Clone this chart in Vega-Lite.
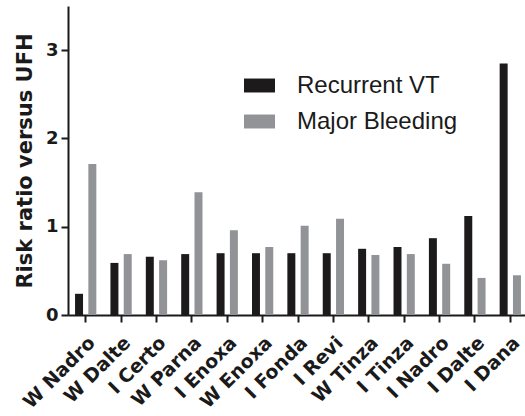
{
  "$schema": "https://vega.github.io/schema/vega-lite/v6.json",
  "autosize": "none",
  "padding": {"left": 68, "top": 6, "right": 0, "bottom": 101},
  "width": 460,
  "height": 309,
  "config": {
    "view": {"stroke": null},
    "font": "Liberation Sans",
    "axis": {"grid": false, "domainColor": "#1a1a1a", "domainWidth": 2, "tickColor": "#1a1a1a", "tickWidth": 2, "labelColor": "#1a1a1a", "titleColor": "#1a1a1a", "labelFont": "DejaVu Sans", "titleFont": "DejaVu Sans"}
  },
  "data": {
    "values": [
      {"drug": "W Nadro", "outcome": "Recurrent VT", "rr": 0.24},
      {"drug": "W Nadro", "outcome": "Major Bleeding", "rr": 1.71},
      {"drug": "W Dalte", "outcome": "Recurrent VT", "rr": 0.59},
      {"drug": "W Dalte", "outcome": "Major Bleeding", "rr": 0.69},
      {"drug": "I Certo", "outcome": "Recurrent VT", "rr": 0.66},
      {"drug": "I Certo", "outcome": "Major Bleeding", "rr": 0.62},
      {"drug": "W Parna", "outcome": "Recurrent VT", "rr": 0.69},
      {"drug": "W Parna", "outcome": "Major Bleeding", "rr": 1.39},
      {"drug": "I Enoxa", "outcome": "Recurrent VT", "rr": 0.70},
      {"drug": "I Enoxa", "outcome": "Major Bleeding", "rr": 0.96},
      {"drug": "W Enoxa", "outcome": "Recurrent VT", "rr": 0.70},
      {"drug": "W Enoxa", "outcome": "Major Bleeding", "rr": 0.77},
      {"drug": "I Fonda", "outcome": "Recurrent VT", "rr": 0.70},
      {"drug": "I Fonda", "outcome": "Major Bleeding", "rr": 1.01},
      {"drug": "I Revi", "outcome": "Recurrent VT", "rr": 0.70},
      {"drug": "I Revi", "outcome": "Major Bleeding", "rr": 1.09},
      {"drug": "W Tinza", "outcome": "Recurrent VT", "rr": 0.75},
      {"drug": "W Tinza", "outcome": "Major Bleeding", "rr": 0.68},
      {"drug": "I Tinza", "outcome": "Recurrent VT", "rr": 0.77},
      {"drug": "I Tinza", "outcome": "Major Bleeding", "rr": 0.69},
      {"drug": "I Nadro", "outcome": "Recurrent VT", "rr": 0.87},
      {"drug": "I Nadro", "outcome": "Major Bleeding", "rr": 0.58},
      {"drug": "I Dalte", "outcome": "Recurrent VT", "rr": 1.12},
      {"drug": "I Dalte", "outcome": "Major Bleeding", "rr": 0.42},
      {"drug": "I Dana", "outcome": "Recurrent VT", "rr": 2.85},
      {"drug": "I Dana", "outcome": "Major Bleeding", "rr": 0.45}
    ]
  },
  "mark": {"type": "bar"},
  "encoding": {
    "x": {
      "field": "drug",
      "type": "nominal",
      "sort": null,
      "scale": {"paddingInner": 0, "paddingOuter": 0},
      "axis": {"title": null, "labelAngle": -45, "labelFontSize": 19, "labelFontWeight": "bold", "tickSize": 7, "labelPadding": 11, "labelLimit": 200}
    },
    "xOffset": {
      "field": "outcome",
      "type": "nominal",
      "sort": ["Recurrent VT", "Major Bleeding"],
      "scale": {"paddingInner": 0.4, "paddingOuter": 0.53}
    },
    "y": {
      "field": "rr",
      "type": "quantitative",
      "scale": {"domain": [0, 3.5], "nice": false},
      "axis": {"title": "Risk ratio versus UFH", "values": [0, 1, 2, 3], "labelFontSize": 18, "labelFontWeight": "bold", "tickSize": 7, "labelPadding": 3, "titleFontSize": 21, "titleFontWeight": "bold", "titlePadding": 10}
    },
    "color": {
      "field": "outcome",
      "type": "nominal",
      "sort": ["Recurrent VT", "Major Bleeding"],
      "scale": {"range": ["#1c1a1b", "#929396"]},
      "legend": {
        "title": null,
        "orient": "none",
        "legendX": 176,
        "legendY": 64,
        "padding": 0,
        "symbolType": "M-1,-0.45H1V0.45H-1Z",
        "symbolSize": 961,
        "symbolStrokeWidth": 0,
        "labelFontSize": 24,
        "labelLimit": 400,
        "labelColor": "#1a1a1a",
        "labelOffset": 22,
        "rowPadding": 8
      }
    }
  }
}
